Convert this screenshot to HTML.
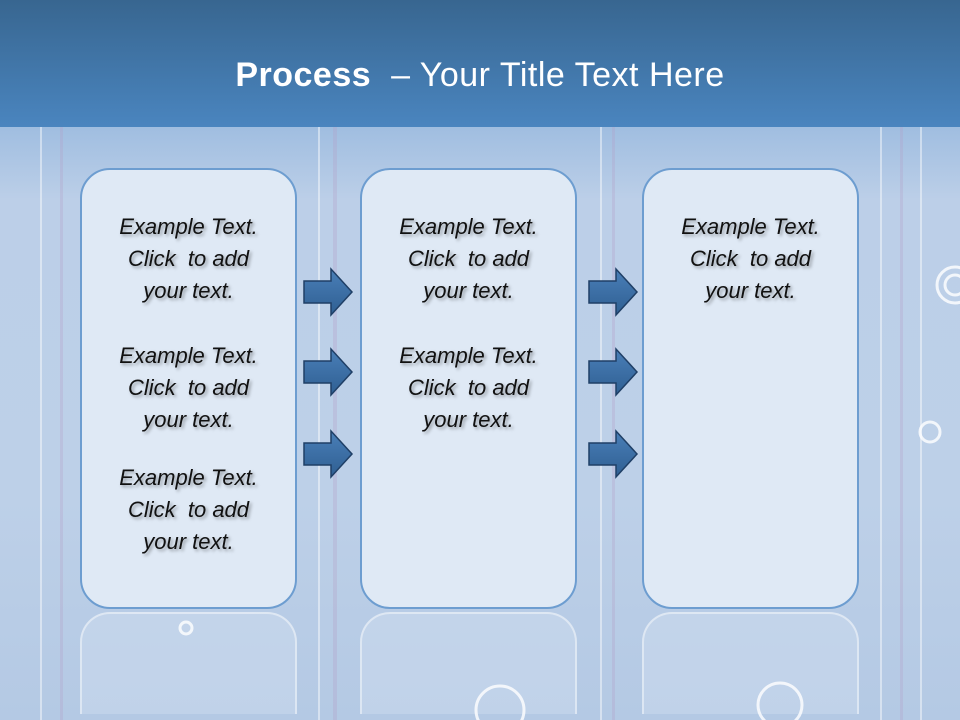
<!DOCTYPE html>
<html style="overflow:hidden;width:960px;height:720px"><head><meta charset="utf-8"><style>
html,body{margin:0;width:960px;height:720px;overflow:hidden}
body{position:relative;font-family:"Liberation Sans",sans-serif;
background:linear-gradient(180deg,#9fbde0 125px,#bccfe8 200px,#bdd0e8 500px,#b4c9e4 720px);}
.hdr{position:absolute;left:0;top:0;width:960px;height:127px;background:linear-gradient(180deg,#386690,#4a85bf 100%);}
.hdr div{position:absolute;top:56px;width:960px;text-align:center;color:#fff;font-size:34px;letter-spacing:0.5px}
.box{position:absolute;top:168px;width:213px;height:437px;border:2px solid #6d9dd0;border-radius:30px;background:#dfe9f5;box-sizing:content-box}
.refl{position:absolute;top:612px;width:213px;height:100px;border:2px solid rgba(255,255,255,.45);border-bottom:none;border-radius:30px 30px 0 0;background:rgba(223,233,245,.3)}
.t{position:absolute;width:217px;text-align:center;font-style:italic;font-size:22px;line-height:32px;color:#111;text-shadow:2px 2px 3px rgba(0,0,0,.35)}
.stripe{position:absolute;top:127px;height:593px;background:rgba(255,255,255,.45)}
</style></head><body>
<div class="stripe" style="left:40px;width:2px"></div>
<div class="stripe" style="left:60px;width:3px;background:rgba(180,160,200,.3)"></div>
<div class="stripe" style="left:318px;width:2px"></div>
<div class="stripe" style="left:333px;width:4px;background:rgba(180,160,200,.3)"></div>
<div class="stripe" style="left:600px;width:2px"></div>
<div class="stripe" style="left:612px;width:3px;background:rgba(180,160,200,.3)"></div>
<div class="stripe" style="left:880px;width:2px"></div>
<div class="stripe" style="left:900px;width:3px;background:rgba(180,160,200,.3)"></div>
<div class="stripe" style="left:920px;width:2px"></div>
<div class="hdr"><div><b>Process</b> &nbsp;– Your Title Text Here</div></div>
<div class="refl" style="left:80px"></div><div class="refl" style="left:360px"></div><div class="refl" style="left:642px"></div>
<div class="box" style="left:80px"></div><div class="box" style="left:360px"></div><div class="box" style="left:642px"></div>
<div class="t" style="left:80px;top:211px">Example Text.<br>Click &nbsp;to add<br>your text.</div>
<div class="t" style="left:80px;top:340px">Example Text.<br>Click &nbsp;to add<br>your text.</div>
<div class="t" style="left:80px;top:462px">Example Text.<br>Click &nbsp;to add<br>your text.</div>
<div class="t" style="left:360px;top:211px">Example Text.<br>Click &nbsp;to add<br>your text.</div>
<div class="t" style="left:360px;top:340px">Example Text.<br>Click &nbsp;to add<br>your text.</div>
<div class="t" style="left:642px;top:211px">Example Text.<br>Click &nbsp;to add<br>your text.</div>
<svg width="960" height="720" style="position:absolute;left:0;top:0">
<defs><linearGradient id="g" x1="0" y1="0" x2="0" y2="1"><stop offset="0" stop-color="#4a7fb8"/><stop offset="1" stop-color="#2f5f92"/></linearGradient>
<g id="a"><path d="M0,-11 H27 V-23 L48,0 L27,23 V11 H0 Z" fill="url(#g)" stroke="#1f3f66" stroke-width="1.5"/></g></defs>
<use href="#a" x="304" y="292"/><use href="#a" x="304" y="372"/><use href="#a" x="304" y="454"/>
<use href="#a" x="589" y="292"/><use href="#a" x="589" y="372"/><use href="#a" x="589" y="454"/>
<g fill="none" stroke="rgba(255,255,255,.8)" stroke-width="3">
<circle cx="955" cy="285" r="18"/><circle cx="955" cy="285" r="10"/><circle cx="930" cy="432" r="10"/><circle cx="780" cy="705" r="22"/><circle cx="500" cy="710" r="24"/><circle cx="186" cy="628" r="6"/></g>
</svg>
</body></html>
